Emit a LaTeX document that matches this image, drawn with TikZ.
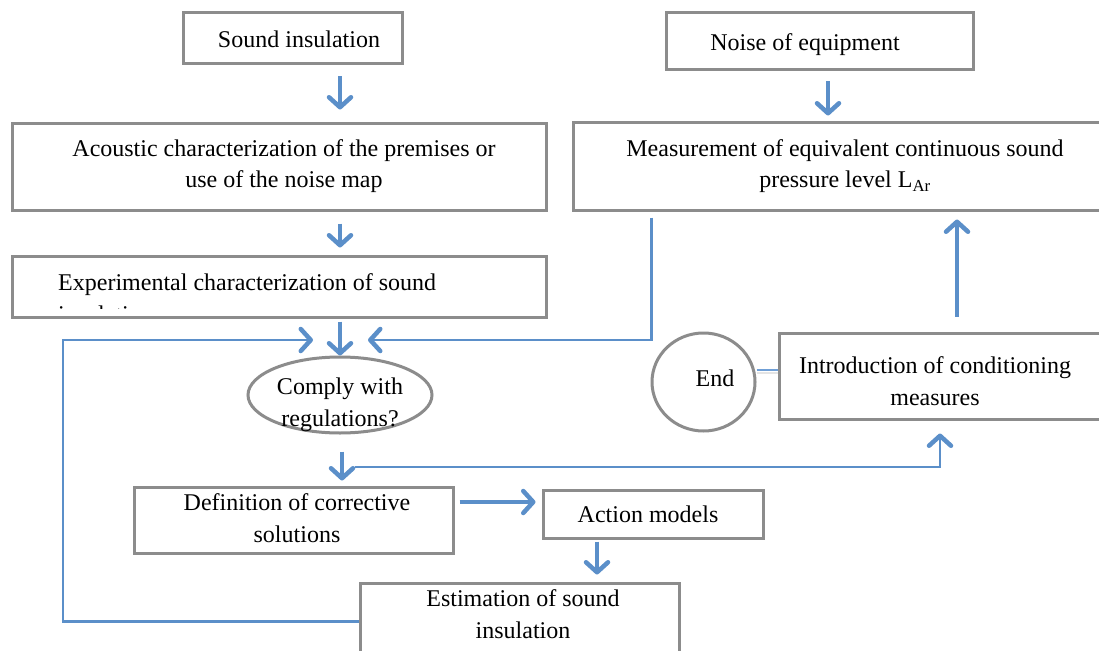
\documentclass[tikz,border=0pt]{standalone}
\usepackage{fontspec}
\setmainfont{Liberation Serif}
\usetikzlibrary{arrows.meta,shapes.geometric,calc}
\definecolor{arrowblue}{HTML}{5B8FC9}
\definecolor{boxgray}{HTML}{8C8C8C}
\definecolor{lightblue}{HTML}{6F9FD6}
\definecolor{shadowgray}{HTML}{E4E4E4}
\begin{document}
\begin{tikzpicture}[x=1pt,y=-1pt,
  box/.style={draw=boxgray, line width=3pt, rectangle, inner sep=0pt},
  txt/.style={font=\fontsize{24}{31.5}\selectfont, align=center, inner sep=0pt},
  arr/.style={draw=arrowblue, line width=3.5pt, -{Straight Barb[length=10pt,width=22pt,round,line width=4.5pt]}},
  connarr/.style={draw=arrowblue, line width=2.5pt, -{Straight Barb[length=10pt,width=22pt,round,line width=4.5pt]}},
]
\fill[white] (0,0) rectangle (1099,650);
\useasboundingbox (0,0) rectangle (1099,650);

% boxes
\node[box, minimum width=219, minimum height=51] (si) at (292.5,38.5) {};
\node[box, minimum width=534, minimum height=87] (ac) at (279,166.5) {};
\node[box, minimum width=534, minimum height=61] (ex) at (279,286.5) {};
\node[ellipse, draw=boxgray, line width=3pt, minimum width=184, minimum height=76, inner sep=0pt] (ell) at (340,395) {};
\node[box, minimum width=319, minimum height=66] (def) at (293.5,520) {};
\node[box, minimum width=220, minimum height=48] (act) at (653,514) {};
\node[box, minimum width=319, minimum height=77] (est) at (519.5,621.5) {};
\node[box, minimum width=307, minimum height=57] (noise) at (819.5,41.5) {};
\node[box, minimum width=537, minimum height=88] (meas) at (841.5,166) {};
\node[box, minimum width=331, minimum height=86] (intro) at (944.5,376) {};
\node[ellipse, draw=boxgray, line width=3pt, minimum width=103, minimum height=98, inner sep=0pt] (endc) at (703.5,382) {};

% texts
\node[txt] (sitext) at (299,39) {Sound insulation};
\node[txt] (actext) at (284,166) {Acoustic characterization of the premises or\\use of the noise map};
\begin{scope}
\clip (14,258) rectangle (544,308);
\node[txt, align=left, anchor=north west] (extext) at (58,273.5) {Experimental characterization of sound\\insulation};
\end{scope}
\node[txt] (elltext) at (340,405) {Comply with\\regulations?};
\node[txt] (deftext) at (297,518) {Definition of corrective\\solutions};
\node[txt] (acttext) at (648,514) {Action models};
\node[txt] (esttext) at (523,614) {Estimation of sound\\insulation};
\node[txt] (noisetext) at (805,45) {Noise of equipment};
\node[txt] (meastext) at (845,166) {Measurement of equivalent continuous sound\\pressure level L\textsubscript{Ar}};
\node[txt] (introtext) at (935,381) {Introduction of conditioning\\measures};
\node[txt] (endtext) at (715,378) {End};

% junction points
\coordinate (jn) at (340,340);
\coordinate (loopL) at (63,340);
\coordinate (split) at (355,467);

% arrows
\draw[arr, shorten <=11pt, shorten >=12pt] ([xshift=47.5pt]si.south) -- ([xshift=47.5pt]si.south |- ac.north);
\draw[arr, shorten <=12pt, shorten >=7pt] ([xshift=61pt]ac.south) -- ([xshift=61pt]ac.south |- ex.north);
\draw[arr, shorten <=3pt] (jn |- ex.south) -- (ell.north);
\draw[connarr] (est.west) -| (loopL) -- ([xshift=-27pt]jn);
\draw[connarr] ([xshift=80pt,yshift=-6pt]meas.south west) |- ([xshift=28pt]jn);
\draw[arr, shorten <=17pt, shorten >=5pt] ([xshift=2pt]ell.south) -- ([xshift=2pt]ell.south |- def.north);
\draw[connarr, shorten >=13pt] (split) -| ([xshift=-4.5pt]intro.south);
\draw[arr, shorten <=5pt, shorten >=6pt] ([yshift=18pt]def.east) -- ([yshift=18pt]def.east -| act.west);
\draw[arr, shorten <=2pt, shorten >=7pt] ([xshift=-56pt]act.south) -- ([xshift=-56pt]act.south |- est.north);
\draw[arr, shorten <=10pt, shorten >=5pt] ([xshift=8.5pt]noise.south) -- ([xshift=8.5pt]noise.south |- meas.north);
\draw[arr, shorten <=15pt, shorten >=8pt] ([xshift=12.5pt]intro.north) -- ([xshift=12.5pt]intro.north |- meas.south);
\draw[shadowgray, line width=2pt] ([yshift=9.5pt]endc.east) -- ([yshift=9.5pt]endc.east -| intro.west);
\draw[lightblue, line width=2.5pt] ([yshift=12pt]endc.east) -- ([yshift=12pt]endc.east -| intro.west);
\end{tikzpicture}
\end{document}
